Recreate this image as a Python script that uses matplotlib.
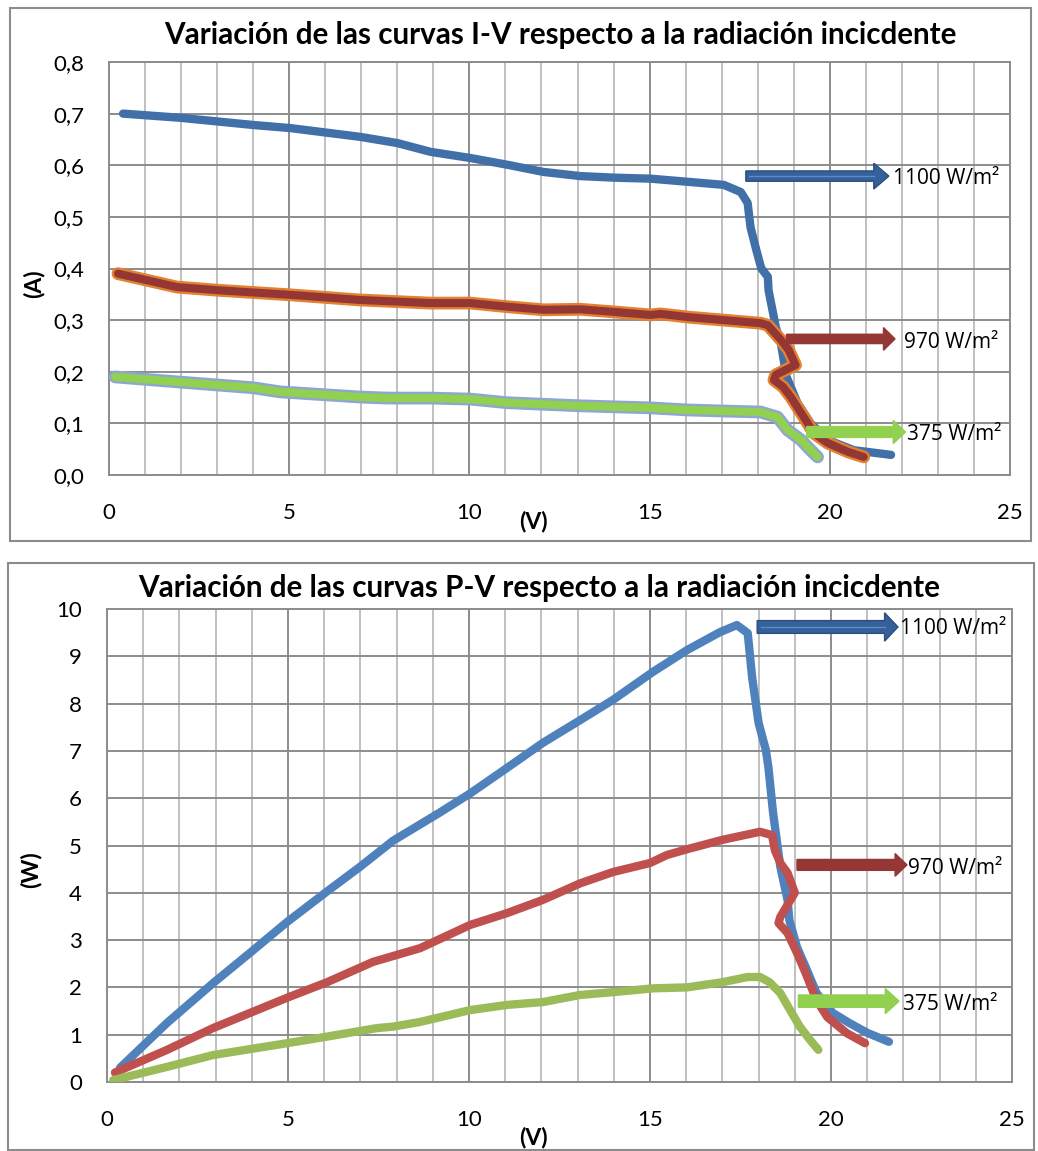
import matplotlib
matplotlib.use('Agg')
import matplotlib.pyplot as plt
from matplotlib.ticker import MultipleLocator, FuncFormatter
from matplotlib.patches import FancyArrow, Rectangle

plt.rcParams['font.family'] = ['Lato', 'DejaVu Sans']

# ---------------- data : curvas I-V ----------------
v_iv_1100 = [0.39, 1.97, 4.0, 5.03, 6.97, 8.0, 8.92, 10.03, 11.05, 12.06, 13.08, 14.0, 15.03, 16.05,
             17.06, 17.53, 17.72, 17.8, 17.96, 18.1, 18.28, 18.3, 18.5, 18.64, 18.8, 19.1, 19.47,
             19.94, 20.67, 21.7]
i_iv_1100 = [0.700, 0.692, 0.678, 0.672, 0.655, 0.643, 0.626, 0.614, 0.601, 0.587, 0.579, 0.576,
             0.574, 0.568, 0.562, 0.548, 0.527, 0.48, 0.436, 0.40, 0.384, 0.358, 0.287, 0.256,
             0.19, 0.14, 0.10, 0.068, 0.048, 0.039]

v_iv_970 = [0.25, 1.89, 3.0, 5.03, 6.97, 8.92, 10.03, 11.05, 12.06, 13.08, 14.0, 15.03, 15.3,
            16.05, 17.06, 18.08, 18.28, 18.64, 18.86, 19.05, 18.5, 18.45, 18.7, 18.92, 19.28,
            19.56, 19.94, 20.5, 20.94]
i_iv_970 = [0.390, 0.364, 0.358, 0.349, 0.339, 0.333, 0.333, 0.326, 0.320, 0.321, 0.316, 0.310,
            0.312, 0.306, 0.300, 0.294, 0.290, 0.262, 0.242, 0.213, 0.194, 0.184, 0.171, 0.151,
            0.112, 0.081, 0.062, 0.045, 0.035]

v_iv_375 = [0.17, 1.97, 4.0, 4.75, 6.97, 7.72, 8.92, 10.03, 11.05, 13.08, 15.03, 16.05, 17.0,
            18.08, 18.55, 18.83, 19.2, 19.47, 19.66]
i_iv_375 = [0.190, 0.180, 0.169, 0.161, 0.151, 0.149, 0.149, 0.147, 0.140, 0.134, 0.130, 0.126,
            0.124, 0.122, 0.112, 0.087, 0.068, 0.048, 0.035]

# ---------------- data : curvas P-V ----------------
v_pv_1100 = [0.36, 1.66, 2.93, 3.95, 4.97, 6.08, 6.99, 7.9, 9.2, 10.03, 11.05, 12.04, 13.07, 13.98,
             15.08, 16.02, 16.93, 17.4, 17.7, 17.82, 18.0, 18.2, 18.27, 18.4, 18.6, 18.8, 18.85,
             19.06, 19.3, 19.6, 20.05, 20.5, 21.0, 21.6]
p_pv_1100 = [0.30, 1.25, 2.09, 2.73, 3.38, 4.03, 4.55, 5.1, 5.7, 6.1, 6.64, 7.17, 7.65, 8.08,
             8.67, 9.13, 9.51, 9.66, 9.49, 8.56, 7.59, 7.02, 6.66, 5.69, 4.55, 3.85, 3.42, 2.85,
             2.43, 1.88, 1.46, 1.25, 1.04, 0.85]

v_pv_970 = [0.22, 1.66, 2.93, 3.95, 4.97, 6.08, 7.35, 8.65, 10.03, 11.05, 12.04, 13.07, 13.98,
            15.0, 15.47, 16.02, 17.0, 18.04, 18.37, 18.45, 18.6, 18.8, 19.0, 18.6, 18.55, 18.8,
            19.06, 19.3, 19.6, 19.9, 20.44, 20.94]
p_pv_970 = [0.2, 0.68, 1.14, 1.46, 1.78, 2.11, 2.54, 2.83, 3.32, 3.57, 3.85, 4.2, 4.44, 4.63,
            4.8, 4.92, 5.12, 5.29, 5.22, 4.9, 4.63, 4.42, 4.0, 3.49, 3.36, 3.15, 2.73, 2.3, 1.73,
            1.37, 1.03, 0.82]

v_pv_375 = [0.17, 1.66, 2.93, 4.97, 6.08, 7.46, 7.9, 8.65, 10.03, 11.05, 12.04, 13.07, 13.98,
            15.08, 16.02, 17.0, 17.7, 18.04, 18.3, 18.6, 18.87, 19.14, 19.42, 19.65]
p_pv_375 = [0.04, 0.32, 0.57, 0.82, 0.96, 1.14, 1.17, 1.27, 1.52, 1.63, 1.69, 1.84, 1.9, 1.98,
            2.0, 2.11, 2.22, 2.22, 2.11, 1.88, 1.52, 1.17, 0.89, 0.68]

etiquetas = ['1100 W/m²', '970 W/m²', '375 W/m²']

# ---------------- figure ----------------
W, H = 1038, 1151
fig = plt.figure(figsize=(W / 100, H / 100), dpi=100)

def fx(px):
    return px / W

def fy(py):
    return 1 - py / H

# chart frames
fig.patches.append(Rectangle((fx(10), fy(541)), fx(1031) - fx(10), fy(8) - fy(541),
                             transform=fig.transFigure, fill=False, ec='#8c8c8c', lw=1.5))
fig.patches.append(Rectangle((fx(8), fy(1150)), fx(1034) - fx(8), fy(563) - fy(1150),
                             transform=fig.transFigure, fill=False, ec='#8c8c8c', lw=1.5))

ax1 = fig.add_axes([fx(109), fy(475), fx(1010) - fx(109), fy(62) - fy(475)])
ax2 = fig.add_axes([fx(107), fy(1082), fx(1012) - fx(107), fy(609) - fy(1082)])

_fs = 16

def setup(ax, ymax, ystep, fmt):
    ax.set_xlim(0, 25)
    ax.set_ylim(0, ymax)
    ax.xaxis.set_major_locator(MultipleLocator(5))
    ax.xaxis.set_minor_locator(MultipleLocator(1))
    ax.yaxis.set_major_locator(MultipleLocator(ystep))
    ax.yaxis.set_major_formatter(FuncFormatter(fmt))
    ax.grid(which='minor', axis='x', color='#c0c0c0', lw=1.4)
    ax.grid(which='major', axis='both', color='#8c8c8c', lw=1.4)
    ax.set_axisbelow(True)
    for s in ax.spines.values():
        s.set_color('#8c8c8c')
        s.set_linewidth(1.4)
    ax.tick_params(which='both', length=0)
    ax.tick_params(axis='y', labelsize=_fs, pad=18)
    ax.tick_params(axis='x', labelsize=_fs, pad=20)

setup(ax1, 0.8, 0.1, lambda v, p: f'{v:.1f}'.replace('.', ','))
setup(ax2, 10, 1, lambda v, p: f'{v:.0f}')

kw = dict(solid_capstyle='round', solid_joinstyle='round')

# --- I-V ---
ax1.plot(v_iv_1100, i_iv_1100, color='#4170a8', lw=6.0, zorder=3, **kw)
ax1.plot(v_iv_970, i_iv_970, color='#e2812f', lw=9.2, zorder=4, **kw)
ax1.plot(v_iv_970, i_iv_970, color='#943634', lw=5.8, zorder=4, **kw)
ax1.plot(v_iv_375, i_iv_375, color='#8ea6d2', lw=9.2, zorder=5, **kw)
ax1.plot(v_iv_375, i_iv_375, color='#92d050', lw=5.8, zorder=5, **kw)

# --- P-V ---
ax2.plot(v_pv_1100, p_pv_1100, color='#4f81bd', lw=6.0, zorder=3, **kw)
ax2.plot(v_pv_970, p_pv_970, color='#c0504d', lw=6.0, zorder=4, **kw)
ax2.plot(v_pv_375, p_pv_375, color='#9bbb59', lw=6.0, zorder=5, **kw)

# arrows : (x tail, x tip, y, shaft, head width, head length)
flechas_iv = [(17.67, 21.64, 0.579, 0.020, 0.050, 0.42),
              (18.80, 21.81, 0.2636, 0.018, 0.044, 0.32),
              (19.36, 22.10, 0.0833, 0.021, 0.045, 0.34)]
flechas_pv = [(17.96, 21.85, 9.62, 0.27, 0.60, 0.37),
              (19.06, 22.10, 4.59, 0.23, 0.48, 0.33),
              (19.10, 21.88, 1.71, 0.26, 0.53, 0.38)]
col_flecha = ['#35609a', '#953735', '#92d050']
txt_iv = [(21.75, 0.575), (22.05, 0.257), (22.15, 0.079)]
txt_pv = [(21.9, 9.58), (22.12, 4.52), (22.0, 1.64)]

for ax, fl, tx in [(ax1, flechas_iv, txt_iv), (ax2, flechas_pv, txt_pv)]:
    for k, (x0, x1, y, w, hw, hl) in enumerate(fl):
        ec = '#2b4f7e' if k == 0 else col_flecha[k]
        ax.add_patch(FancyArrow(x0, y, x1 - x0, 0, width=w, head_width=hw, head_length=hl,
                                length_includes_head=True, fc=col_flecha[k], ec=ec, lw=1,
                                zorder=6, clip_on=False))
        if k == 0:
            ax.plot([x0 + 0.1, x1 - hl], [y, y], color='#5b8bc8', lw=1, zorder=7)
        ax.text(tx[k][0], tx[k][1], etiquetas[k], fontsize=15, va='center', ha='left',
                family=['Open Sans', 'DejaVu Sans'], zorder=8, clip_on=False)

# titles and axis labels
fig.text(fx(560), fy(35), 'Variación de las curvas I-V respecto a la radiación incicdente',
         ha='center', va='center', fontsize=21.3, fontweight='bold')
fig.text(fx(539), fy(588), 'Variación de las curvas P-V respecto a la radiación incicdente',
         ha='center', va='center', fontsize=21.3, fontweight='bold')
fig.text(fx(34), fy(284), '(A)', rotation=90, ha='center', va='center', fontsize=16.5, fontweight='bold')
fig.text(fx(533), fy(522), '(V)', ha='center', va='center', fontsize=16.5, fontweight='bold')
fig.text(fx(31), fy(870), '(W)', rotation=90, ha='center', va='center', fontsize=16.5, fontweight='bold')
fig.text(fx(533), fy(1138), '(V)', ha='center', va='center', fontsize=16.5, fontweight='bold')

fig.savefig('out.png', dpi=100)
